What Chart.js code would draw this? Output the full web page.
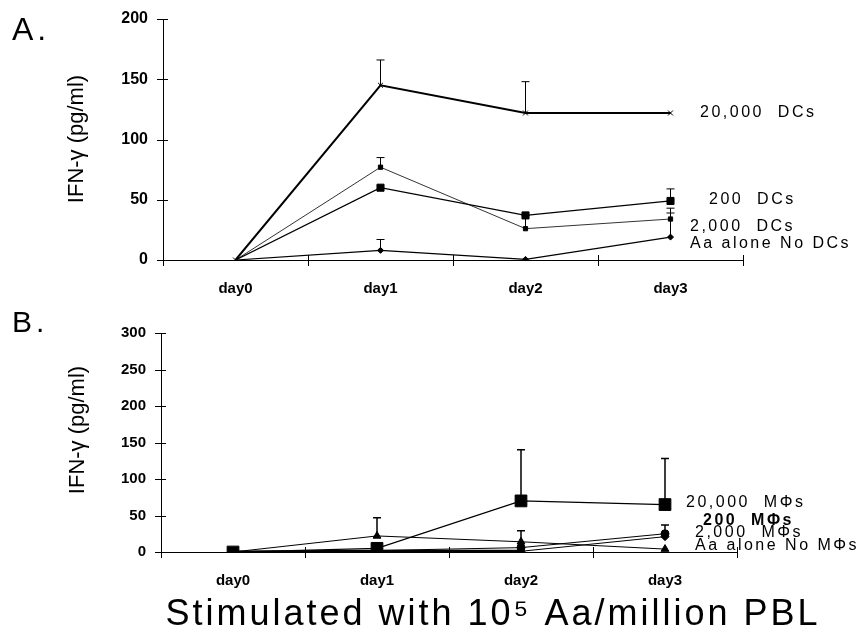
<!DOCTYPE html>
<html>
<head>
<meta charset="utf-8">
<script src="https://cdn.jsdelivr.net/npm/chart.js@4.4.1/dist/chart.umd.min.js"></script>
<style>
  html, body { margin: 0; padding: 0; background: #fff; }
  #wrap { position: relative; width: 860px; height: 632px; }
  #chartA { position: absolute; left: 0; top: 0; }
  #chartB { position: absolute; left: 0; top: 300px; }
</style>
</head>
<body>
<div id="wrap">
  <canvas id="chartA" width="860" height="300"></canvas>
  <canvas id="chartB" width="860" height="332"></canvas>
</div>
<script>
// --- data ---
const days = ['day0', 'day1', 'day2', 'day3'];

// panel A: dendritic cells
const dc20000 = [0, 145, 122, 122];
const dc20000Err = [0, 21, 26, 0];
const dc200 = [0, 60, 37, 49];
const dc200Err = [0, 0, 0, 10];
const dc2000 = [0, 77, 26, 34];
const dc2000Err = [0, 8, 11, 5];
const dcNone = [0, 8, 0.5, 19];
const dcNoneErr = [0, 9, 0, 24];
const ticksA = [0, 50, 100, 150, 200];

// panel B: macrophages
const mf20000 = [0, 5, 70, 65];
const mf20000Err = [0, 0, 70, 63];
const mf200 = [0, 2, 6, 25];
const mf200Err = [0, 0, 23, 12];
const mf2000 = [0, 1, 1, 21];
const mf2000Err = [0, 0, 0, 0];
const mfNone = [0, 22, 14, 4];
const mfNoneErr = [0, 25, 0, 0];
const ticksB = [0, 50, 100, 150, 200, 250, 300];

const FONT = 'Arial, "Liberation Sans", sans-serif';

// crossing tick marks on both axes
const axisTicks = {
    id: 'axisTicks',
    afterDraw(chart) {
        const { ctx, scales: { x, y }, chartArea: a } = chart;
        ctx.save();
        ctx.strokeStyle = '#000';
        ctx.lineWidth = 1;
        ctx.beginPath();
        y.ticks.forEach(t => {
            const py = Math.round(y.getPixelForValue(t.value)) + 0.5;
            ctx.moveTo(a.left - 6, py);
            ctx.lineTo(a.left + 5, py);
        });
        for (let i = 0; i <= x.ticks.length; i++) {
            const px = Math.round(x.getPixelForValue(i - 0.5)) + 0.5;
            ctx.moveTo(px, a.bottom - 5);
            ctx.lineTo(px, a.bottom + 6);
        }
        ctx.stroke();
        ctx.restore();
    }
};

// upward error bars with caps
const errorBars = {
    id: 'errorBars',
    afterDatasetsDraw(chart) {
        const { ctx, scales: { x, y } } = chart;
        ctx.save();
        ctx.strokeStyle = '#000';
        chart.data.datasets.forEach(ds => {
            if (!ds.errUp) return;
            ctx.lineWidth = ds.errWidth || 1;
            ctx.beginPath();
            ds.data.forEach((v, i) => {
                const e = ds.errUp[i];
                if (!e) return;
                const px = x.getPixelForValue(i);
                const p0 = y.getPixelForValue(v);
                const p1 = y.getPixelForValue(v + e);
                ctx.moveTo(px, p0);
                ctx.lineTo(px, p1);
                ctx.moveTo(px - 4, p1);
                ctx.lineTo(px + 4, p1);
            });
            ctx.stroke();
        });
        ctx.restore();
    }
};

// panel letter, y title, series labels, optional big x title
function textPlugin(cfg) {
    return {
        id: 'texts',
        afterDraw(chart) {
            const { ctx, scales: { y } } = chart;
            ctx.save();
            ctx.fillStyle = '#000';

            ctx.font = cfg.letterFont + ' ' + FONT;
            ctx.letterSpacing = '4px';
            ctx.textBaseline = 'alphabetic';
            ctx.textAlign = 'left';
            ctx.fillText(cfg.letter, 12, cfg.letterY);

            ctx.letterSpacing = '0px';
            ctx.font = '22px ' + FONT;
            ctx.textAlign = 'center';
            ctx.textBaseline = 'middle';
            ctx.translate(cfg.titleX, cfg.titleY);
            ctx.rotate(-Math.PI / 2);
            ctx.fillText('IFN-\u03b3 (pg/ml)', 0, 0);
            ctx.setTransform(1, 0, 0, 1, 0, 0);

            ctx.textAlign = 'left';
            ctx.letterSpacing = '2.5px';
            cfg.labels.forEach(l => {
                ctx.font = (l.bold ? 'bold ' : '') + '16px ' + FONT;
                ctx.fillText(l.text, l.x, y.getPixelForValue(l.at));
            });

            if (cfg.bigTitle) {
                ctx.font = '36px ' + FONT;
                ctx.letterSpacing = '3px';
                ctx.textAlign = 'center';
                ctx.textBaseline = 'alphabetic';
                ctx.fillText(cfg.bigTitle, 493, 325);
            }
            ctx.restore();
        }
    };
}

function scalesFor(maxVal, tickList, yWidth, xHeight, tickFont) {
    return {
        x: {
            offset: true,
            afterFit: s => { s.height = xHeight; },
            border: { display: true, color: '#000', width: 1 },
            grid: { display: false },
            ticks: { color: '#000', font: { family: FONT, size: 15, weight: 'bold' }, padding: 12 }
        },
        y: {
            min: 0,
            max: maxVal,
            afterBuildTicks: s => { s.ticks = tickList.map(v => ({ value: v })); },
            afterFit: s => { s.width = yWidth; },
            border: { display: true, color: '#000', width: 1 },
            grid: { display: false },
            ticks: { color: '#000', font: { family: FONT, size: tickFont, weight: 'bold' }, padding: 7 }
        }
    };
}

function line(data, err, opts) {
    return Object.assign({
        data: data,
        errUp: err,
        borderColor: '#000',
        backgroundColor: '#000',
        pointBackgroundColor: '#000',
        pointBorderColor: '#000',
        pointBorderWidth: 1,
        borderWidth: 1,
        tension: 0,
        fill: false
    }, opts);
}

const commonPlugins = { legend: { display: false }, tooltip: { enabled: false } };

new Chart(document.getElementById('chartA'), {
    type: 'line',
    data: {
        labels: days,
        datasets: [
            line(dc20000, dc20000Err, { label: '20,000 DCs', borderWidth: 2, pointStyle: 'crossRot', pointRadius: 3.5 }),
            line(dc200, dc200Err, { label: '200 DCs', borderWidth: 1.3, pointStyle: 'rect', pointRadius: [0, 5, 5, 5] }),
            line(dc2000, dc2000Err, { label: '2,000 DCs', borderWidth: 1, borderColor: '#333', pointStyle: 'rect', pointRadius: [0, 3, 3, 3] }),
            line(dcNone, dcNoneErr, { label: 'Aa alone No DCs', borderWidth: 1.2, pointStyle: 'rectRot', pointRadius: [0, 3, 3, 3] })
        ]
    },
    options: {
        responsive: false,
        animation: false,
        layout: { padding: { top: 19, right: 117, bottom: 0, left: 0 } },
        scales: scalesFor(200, ticksA, 163, 40, 16),
        plugins: commonPlugins
    },
    plugins: [axisTicks, errorBars, textPlugin({
        letter: 'A.', letterFont: '32px', letterY: 40,
        titleX: 77, titleY: 139,
        labels: [
            { text: '20,000  DCs', x: 700, at: 122 },
            { text: '200  DCs', x: 709, at: 50 },
            { text: '2,000  DCs', x: 690, at: 28 },
            { text: 'Aa alone No DCs', x: 690, at: 13.5 }
        ]
    })]
});

new Chart(document.getElementById('chartB'), {
    type: 'line',
    data: {
        labels: days,
        datasets: [
            line(mf20000, mf20000Err, { label: '20,000 M\u03a6s', borderWidth: 1.2, pointStyle: 'rect', pointRadius: 8.3, errWidth: 1.5 }),
            line(mf200, mf200Err, { label: '200 M\u03a6s', borderWidth: 1, pointStyle: 'circle', pointRadius: 4, errWidth: 1.5 }),
            line(mf2000, mf2000Err, {
                label: '2,000 M\u03a6s', borderWidth: 1, pointStyle: 'rectRot', pointRadius: 4,
                segment: { borderWidth: c => (c.p1DataIndex <= 2 ? 3 : 1) }
            }),
            line(mfNone, mfNoneErr, { label: 'Aa alone No M\u03a6s', borderWidth: 1, pointStyle: 'triangle', pointRadius: 4.5, errWidth: 1.5 })
        ]
    },
    options: {
        responsive: false,
        animation: false,
        layout: { padding: { top: 33, right: 123, bottom: 0, left: 0 } },
        scales: scalesFor(300, ticksB, 161, 80, 15),
        plugins: commonPlugins
    },
    plugins: [axisTicks, errorBars, textPlugin({
        letter: 'B.', letterFont: '30px', letterY: 32,
        titleX: 78, titleY: 130,
        labels: [
            { text: '20,000  M\u03a6s', x: 686, at: 68 },
            { text: '200  M\u03a6s', x: 703, at: 43, bold: true },
            { text: '2,000  M\u03a6s', x: 695, at: 26 },
            { text: 'Aa alone No M\u03a6s', x: 695, at: 9 }
        ],
        bigTitle: 'Stimulated with 10\u2075 Aa/million PBL'
    })]
});
</script>
</body>
</html>
